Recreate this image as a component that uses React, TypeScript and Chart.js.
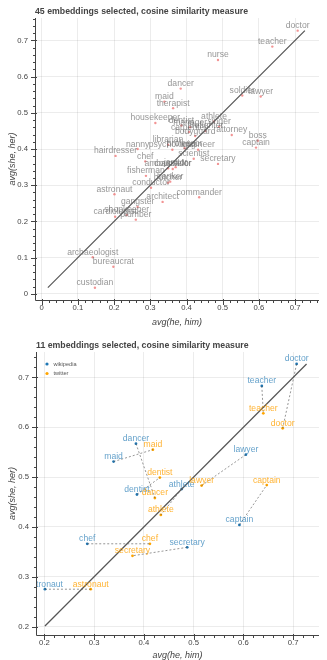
import React, { useEffect, useRef } from "react";
import { Chart, registerables } from "chart.js";
Chart.register(...registerables);

if (typeof document !== "undefined") document.body.style.margin = "0";

const FONT = "'Liberation Sans', Arial, Helvetica, sans-serif";

// ---------- Chart 1: 45 occupations (wikipedia embeddings) ----------
const occupations = [
  "doctor", "teacher", "nurse", "dancer", "soldier", "lawyer", "maid", "therapist",
  "housekeeper", "dentist", "athlete", "singer", "carpenter", "firefighter", "bodyguard",
  "attorney", "boss", "captain", "librarian", "nanny", "psychologist", "engineer",
  "professor", "hairdresser", "scientist", "chef", "secretary", "ambassador", "counselor",
  "fisherman", "butcher", "banker", "conductor", "astronaut", "commander", "architect",
  "gangster", "cardiologist", "shopkeeper", "plumber", "archaeologist", "bureaucrat",
  "custodian", "janitor", "manager",
];
const heHimWiki = [
  0.707, 0.637, 0.487, 0.384, 0.554, 0.605, 0.339, 0.363,
  0.314, 0.386, 0.476, 0.490, 0.407, 0.452, 0.424,
  0.525, 0.597, 0.592, 0.349, 0.265, 0.361, 0.432,
  0.395, 0.204, 0.420, 0.286, 0.487, 0.349, 0.362,
  0.288, 0.349, 0.355, 0.302, 0.201, 0.435, 0.334,
  0.265, 0.203, 0.235, 0.260, 0.141, 0.198,
  0.147, 0.370, 0.410,
];
const sheHerWiki = [
  0.727, 0.683, 0.646, 0.567, 0.548, 0.545, 0.531, 0.513,
  0.472, 0.465, 0.476, 0.462, 0.447, 0.450, 0.436,
  0.439, 0.423, 0.404, 0.412, 0.400, 0.398, 0.398,
  0.402, 0.381, 0.373, 0.366, 0.359, 0.347, 0.345,
  0.326, 0.307, 0.310, 0.293, 0.275, 0.267, 0.254,
  0.240, 0.213, 0.218, 0.205, 0.101, 0.075,
  0.017, 0.350, 0.460,
];

// ---------- Chart 2: 11 occupations, wikipedia vs twitter ----------
const pairWords = [
  "doctor", "teacher", "dancer", "maid", "lawyer", "dentist",
  "athlete", "captain", "chef", "secretary", "astronaut",
];
const wikiHeHim = [0.707, 0.637, 0.384, 0.339, 0.605, 0.386, 0.476, 0.592, 0.286, 0.487, 0.201];
const wikiSheHer = [0.727, 0.683, 0.567, 0.531, 0.545, 0.465, 0.476, 0.404, 0.366, 0.359, 0.275];
const twitterHeHim = [0.679, 0.640, 0.422, 0.418, 0.516, 0.432, 0.434, 0.647, 0.412, 0.377, 0.293];
const twitterSheHer = [0.598, 0.628, 0.458, 0.555, 0.483, 0.499, 0.424, 0.484, 0.366, 0.342, 0.275];

const ticksTop = [0, 0.1, 0.2, 0.3, 0.4, 0.5, 0.6, 0.7];
const ticksBottom = [0.2, 0.3, 0.4, 0.5, 0.6, 0.7];
const titleTop = "45 embeddings selected, cosine similarity measure";
const titleBottom = "11 embeddings selected, cosine similarity measure";
const xTitle = "avg(he, him)";
const yTitle = "avg(she, her)";
const legendNames = ["wikipedia", "twitter"];

const BLUE = "#1f77b4";
const ORANGE = "#ffa500";
const AXIS = "#444";

function fmt(v: number) {
  if (Math.abs(v) < 1e-9) return "0";
  return (Math.round(v * 10) / 10).toFixed(1);
}

function axis(min: number, max: number, ticks: number[], size: number, isX: boolean) {
  return {
    type: "linear",
    min,
    max,
    afterBuildTicks: (s: any) => {
      s.ticks = ticks.map((v) => ({ value: v }));
    },
    afterFit: (s: any) => {
      if (isX) s.height = size;
      else s.width = size;
    },
    grid: { color: "rgba(0,0,0,0.075)", drawTicks: false, lineWidth: 1 },
    border: { display: false },
    ticks: {
      font: { family: FONT, size: 7.7 },
      color: AXIS,
      padding: isX ? 3 : 7,
      maxRotation: 0,
      autoSkip: false,
      callback: (v: any) => fmt(Number(v)),
    },
  };
}

const decorPlugin = {
  id: "decor",
  afterDatasetsDraw(chart: any) {
    const ctx = chart.ctx;
    const a = chart.chartArea;
    ctx.save();
    ctx.beginPath();
    ctx.rect(a.left, a.top, a.right - a.left, a.bottom - a.top);
    ctx.clip();
    ctx.font = `8.6px ${FONT}`;
    ctx.textAlign = "center";
    ctx.textBaseline = "alphabetic";
    chart.data.datasets.forEach((ds: any, i: number) => {
      if (!ds.wordLabels) return;
      const meta = chart.getDatasetMeta(i);
      ctx.fillStyle = ds.labelColor;
      meta.data.forEach((el: any, j: number) => {
        ctx.fillText(ds.wordLabels[j], el.x, el.y - 2.5);
      });
    });
    ctx.restore();
  },
  afterDraw(chart: any) {
    const o = chart.options.plugins.decor;
    const ctx = chart.ctx;
    const a = chart.chartArea;
    const xs = chart.scales.x;
    const ys = chart.scales.y;
    ctx.save();
    ctx.strokeStyle = AXIS;
    ctx.lineWidth = 1;
    const L = Math.round(a.left) + 0.5;
    const B = Math.round(a.bottom) + 0.5;
    ctx.beginPath();
    ctx.moveTo(L, a.top);
    ctx.lineTo(L, B);
    ctx.moveTo(L, B);
    ctx.lineTo(a.right, B);
    const step = 0.02;
    for (let k = Math.ceil(ys.min / step - 1e-9); k * step <= ys.max + 1e-9; k++) {
      const py = Math.round(ys.getPixelForValue(k * step)) + 0.5;
      const major = k % 5 === 0;
      ctx.moveTo(L - (major ? 4.5 : 2.5), py);
      ctx.lineTo(L + (major ? 1.5 : 0), py);
    }
    for (let k = Math.ceil(xs.min / step - 1e-9); k * step <= xs.max + 1e-9; k++) {
      const px = Math.round(xs.getPixelForValue(k * step)) + 0.5;
      const major = k % 5 === 0;
      ctx.moveTo(px, B + (major ? 4.5 : 2.5));
      ctx.lineTo(px, B - (major ? 1.5 : 0));
    }
    ctx.stroke();

    ctx.fillStyle = AXIS;
    ctx.font = `bold 8.75px ${FONT}`;
    ctx.textAlign = "left";
    ctx.textBaseline = "middle";
    ctx.fillText(o.title, a.left, o.titleY);

    ctx.font = `italic 9px ${FONT}`;
    ctx.textAlign = "center";
    ctx.fillText(xTitle, (a.left + a.right) / 2, o.xTitleY);
    ctx.save();
    ctx.translate(o.yTitleX, (a.top + a.bottom) / 2);
    ctx.rotate(-Math.PI / 2);
    ctx.fillText(yTitle, 0, 0);
    ctx.restore();

    if (o.legend) {
      ctx.font = `5.6px ${FONT}`;
      ctx.textAlign = "left";
      o.legend.forEach((item: any, i: number) => {
        const cx = a.left + 11;
        const cy = a.top + 12 + i * 9.5;
        ctx.fillStyle = item.color;
        ctx.beginPath();
        ctx.arc(cx, cy, 1.6, 0, Math.PI * 2);
        ctx.fill();
        ctx.fillStyle = "#555";
        ctx.fillText(item.name, cx + 6.5, cy);
      });
    }
    ctx.restore();
  },
};

function topConfig(): any {
  const pts = occupations.map((_, i) => ({ x: heHimWiki[i], y: sheHerWiki[i] }));
  const all = [...heHimWiki, ...sheHerWiki];
  const lo = Math.min(...all);
  const hi = Math.max(...all);
  return {
    type: "scatter",
    data: {
      datasets: [
        {
          data: [{ x: lo, y: lo }, { x: hi, y: hi }],
          showLine: true,
          borderColor: "#555",
          borderWidth: 1.2,
          pointRadius: 0,
        },
        {
          data: pts,
          pointRadius: 1.2,
          pointBorderWidth: 0,
          backgroundColor: "rgba(235,90,90,0.65)",
          wordLabels: occupations,
          labelColor: "rgba(100,100,100,0.68)",
        },
      ],
    },
    options: {
      responsive: false,
      animation: false,
      events: [],
      layout: { padding: { top: 18, right: 8, left: 0, bottom: 0 } },
      plugins: {
        legend: { display: false },
        tooltip: { enabled: false },
        decor: { title: titleTop, titleY: 12, xTitleY: 322, yTitleX: 12 },
      },
      scales: {
        x: axis(-0.0185, 0.766, ticksTop, 30, true),
        y: axis(-0.017, 0.762, ticksTop, 35, false),
      },
    },
    plugins: [decorPlugin],
  };
}

function bottomConfig(): any {
  const all = [...wikiHeHim, ...wikiSheHer, ...twitterHeHim, ...twitterSheHer];
  const lo = Math.min(...all);
  const hi = Math.max(...all);
  const pairLines = pairWords.map((_, i) => ({
    data: [
      { x: wikiHeHim[i], y: wikiSheHer[i] },
      { x: twitterHeHim[i], y: twitterSheHer[i] },
    ],
    showLine: true,
    borderColor: "rgba(80,80,80,0.75)",
    borderWidth: 0.8,
    borderDash: [2, 2],
    pointRadius: 0,
  }));
  return {
    type: "scatter",
    data: {
      datasets: [
        {
          data: [{ x: lo, y: lo }, { x: hi, y: hi }],
          showLine: true,
          borderColor: "#555",
          borderWidth: 1.2,
          pointRadius: 0,
        },
        ...pairLines,
        {
          data: pairWords.map((_, i) => ({ x: wikiHeHim[i], y: wikiSheHer[i] })),
          pointRadius: 1.4,
          pointBorderWidth: 0,
          backgroundColor: BLUE,
          wordLabels: pairWords,
          labelColor: "rgba(31,119,180,0.7)",
        },
        {
          data: pairWords.map((_, i) => ({ x: twitterHeHim[i], y: twitterSheHer[i] })),
          pointRadius: 1.4,
          pointBorderWidth: 0,
          backgroundColor: ORANGE,
          wordLabels: pairWords,
          labelColor: "rgba(255,160,0,0.8)",
        },
      ],
    },
    options: {
      responsive: false,
      animation: false,
      events: [],
      layout: { padding: { top: 22, right: 8, left: 0, bottom: 0 } },
      plugins: {
        legend: { display: false },
        tooltip: { enabled: false },
        decor: {
          title: titleBottom,
          titleY: 15.7,
          xTitleY: 325,
          yTitleX: 12,
          legend: [
            { name: legendNames[0], color: BLUE },
            { name: legendNames[1], color: ORANGE },
          ],
        },
      },
      scales: {
        x: axis(0.183, 0.752, ticksBottom, 25, true),
        y: axis(0.183, 0.751, ticksBottom, 36, false),
      },
    },
    plugins: [decorPlugin],
  };
}

function Panel({ make, height }: { make: () => any; height: number }) {
  const ref = useRef<HTMLCanvasElement | null>(null);
  useEffect(() => {
    const chart = new Chart(ref.current as HTMLCanvasElement, make());
    return () => chart.destroy();
  }, []);
  return (
    <canvas
      ref={ref}
      width={327}
      height={height}
      style={{ display: "block", width: 327, height }}
    />
  );
}

export default function App() {
  useEffect(() => {
    document.body.style.margin = "0";
  }, []);
  return (
    <div style={{ width: 327, background: "#fff" }}>
      <Panel make={topConfig} height={330} />
      <Panel make={bottomConfig} height={330} />
    </div>
  );
}
